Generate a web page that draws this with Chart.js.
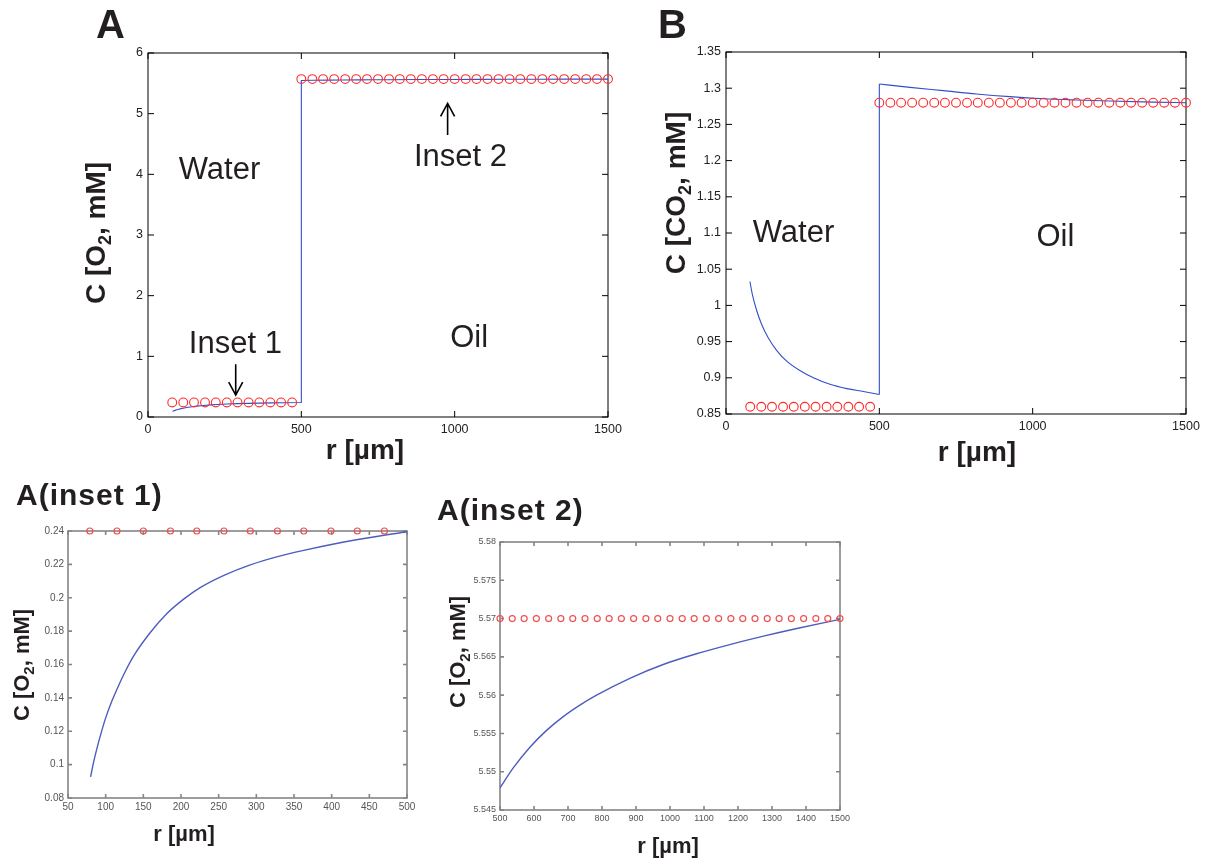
<!DOCTYPE html>
<html>
<head>
<meta charset="utf-8">
<script src="https://cdn.jsdelivr.net/npm/chart.js@4.4.1/dist/chart.umd.min.js"></script>
<style>
  html, body { margin: 0; padding: 0; background: #fff; }
  body { width: 1207px; height: 859px; position: relative; overflow: hidden; }
  canvas { position: absolute; }
</style>
</head>
<body>
<canvas id="panelA"></canvas>
<canvas id="panelB"></canvas>
<canvas id="inset1"></canvas>
<canvas id="inset2"></canvas>
<script>
// ---- axis ticks ----
const rTicksMain = [0, 500, 1000, 1500];
const o2Ticks = [0, 1, 2, 3, 4, 5, 6];
const co2Ticks = [0.85, 0.9, 0.95, 1, 1.05, 1.1, 1.15, 1.2, 1.25, 1.3, 1.35];
const inset1RTicks = [50, 100, 150, 200, 250, 300, 350, 400, 450, 500];
const inset1CTicks = [0.08, 0.1, 0.12, 0.14, 0.16, 0.18, 0.2, 0.22, 0.24];
const inset2RTicks = [500, 600, 700, 800, 900, 1000, 1100, 1200, 1300, 1400, 1500];
const inset2CTicks = [5.545, 5.55, 5.555, 5.56, 5.565, 5.57, 5.575, 5.58];

// ---- O2 profile (blue line) ----
const o2WaterR = [80, 84, 88, 94, 100, 108, 115, 126, 137, 159, 181, 204, 226, 257, 292, 327, 363, 403, 447, 500];
const o2WaterC = [0.0926, 0.1015, 0.1090, 0.1190, 0.1280, 0.1378, 0.1452, 0.1558, 0.1650, 0.1790, 0.1904, 0.1993,
  0.2062, 0.2134, 0.2197, 0.2245, 0.2284, 0.2322, 0.2358, 0.2396];
const o2OilR = [500, 539, 588, 637, 686, 735, 784, 882, 980, 1078, 1176, 1275, 1373, 1500];
const o2OilC = [5.5479, 5.5505, 5.5532, 5.5554, 5.5572, 5.5587, 5.5600, 5.5622, 5.5640, 5.5654, 5.5666, 5.5677, 5.5687, 5.5699];

// ---- CO2 profile (blue line) ----
const co2WaterR = [78, 87, 100, 116, 138, 165, 198, 241, 285, 339, 394, 448, 500];
const co2WaterC = [1.033, 1.013, 0.993, 0.974, 0.955, 0.938, 0.923, 0.910, 0.900, 0.891, 0.885, 0.881, 0.877];
const co2OilR = [500, 600, 709, 817, 926, 1035, 1144, 1252, 1393, 1500];
const co2OilC = [1.3058, 1.3012, 1.2966, 1.2920, 1.2883, 1.2855, 1.2837, 1.2823, 1.2808, 1.2800];

// ---- red circles ----
const dotsWaterR = [79, 115, 150, 186, 221, 257, 292, 328, 363, 399, 434, 470];
const dotsOilR = [500, 536, 571, 607, 643, 679, 714, 750, 786, 821, 857, 893, 929, 964, 1000,
  1036, 1071, 1107, 1143, 1179, 1214, 1250, 1286, 1321, 1357, 1393, 1429, 1464, 1500];
const o2WaterDots = [0.24, 0.24, 0.24, 0.24, 0.24, 0.24, 0.24, 0.24, 0.24, 0.24, 0.24, 0.24];
const o2OilDots = [5.57, 5.57, 5.57, 5.57, 5.57, 5.57, 5.57, 5.57, 5.57, 5.57, 5.57, 5.57, 5.57, 5.57, 5.57,
  5.57, 5.57, 5.57, 5.57, 5.57, 5.57, 5.57, 5.57, 5.57, 5.57, 5.57, 5.57, 5.57, 5.57];
const co2WaterDots = [0.86, 0.86, 0.86, 0.86, 0.86, 0.86, 0.86, 0.86, 0.86, 0.86, 0.86, 0.86];
const co2OilDots = [1.28, 1.28, 1.28, 1.28, 1.28, 1.28, 1.28, 1.28, 1.28, 1.28, 1.28, 1.28, 1.28, 1.28, 1.28,
  1.28, 1.28, 1.28, 1.28, 1.28, 1.28, 1.28, 1.28, 1.28, 1.28, 1.28, 1.28, 1.28, 1.28];

// ---- annotations (data coords) ----
const notesA = [
  { text: "Water", r: 233, c: 3.92 },
  { text: "Inset 2", r: 1019, c: 4.13 },
  { text: "Inset 1", r: 285, c: 1.05 },
  { text: "Oil", r: 1047, c: 1.156 },
];
const arrowsA = [
  { r: 977, from: 4.65, to: 5.17 },
  { r: 286, from: 0.87, to: 0.36 },
];
const notesB = [
  { text: "Water", r: 220, c: 1.088 },
  { text: "Oil", r: 1074, c: 1.082 },
];

const FONT = '"Liberation Sans", Arial, Helvetica, sans-serif';
const INK = "#231f20";
const O2_LABEL = [{ t: "C [O" }, { t: "2", sub: true }, { t: ", mM]" }];
const CO2_LABEL = [{ t: "C [CO" }, { t: "2", sub: true }, { t: ", mM]" }];
const R_LABEL = [{ t: "r [µm]" }];

const pts = (xs, ys) => xs.map((x, i) => ({ x, y: ys[i] }));

function curve(data, color, width, smooth) {
  return {
    data,
    showLine: true,
    borderColor: color,
    borderWidth: width,
    pointRadius: 0,
    fill: false,
    tension: 0,
    cubicInterpolationMode: smooth ? "monotone" : "default",
  };
}

function dots(data, color, radius, width) {
  return {
    data,
    showLine: false,
    pointStyle: "circle",
    pointRadius: radius,
    pointBorderColor: color,
    pointBackgroundColor: "rgba(0,0,0,0)",
    pointBorderWidth: width,
    clip: false,
  };
}

function drawRich(ctx, parts, size, x, y, angle) {
  ctx.save();
  ctx.translate(x, y);
  ctx.rotate(angle);
  ctx.fillStyle = INK;
  ctx.textAlign = "left";
  ctx.textBaseline = "alphabetic";
  const fonts = parts.map((p) => `bold ${p.sub ? Math.round(size * 0.66) : size}px ${FONT}`);
  let total = 0;
  const widths = parts.map((p, i) => {
    ctx.font = fonts[i];
    const w = ctx.measureText(p.t).width;
    total += w;
    return w;
  });
  let cx = -total / 2;
  parts.forEach((p, i) => {
    ctx.font = fonts[i];
    ctx.fillText(p.t, cx, p.sub ? size * 0.22 : 0);
    cx += widths[i];
  });
  ctx.restore();
}

// MATLAB-like boxed axes with inward ticks, panel letters, axis titles, notes and arrows
const framePlugin = {
  id: "frame",
  beforeDatasetsDraw(chart, args, o) {
    const { ctx, chartArea: a, scales } = chart;
    ctx.save();
    ctx.strokeStyle = o.color;
    ctx.lineWidth = o.width;
    ctx.strokeRect(a.left, a.top, a.right - a.left, a.bottom - a.top);
    ctx.beginPath();
    scales.x.ticks.forEach((t) => {
      const x = scales.x.getPixelForValue(t.value);
      ctx.moveTo(x, a.bottom);
      ctx.lineTo(x, a.bottom - o.tick);
      ctx.moveTo(x, a.top);
      ctx.lineTo(x, a.top + o.tick);
    });
    scales.y.ticks.forEach((t) => {
      const y = scales.y.getPixelForValue(t.value);
      ctx.moveTo(a.left, y);
      ctx.lineTo(a.left + o.tick, y);
      ctx.moveTo(a.right, y);
      ctx.lineTo(a.right - o.tick, y);
    });
    ctx.stroke();
    ctx.restore();
  },
  afterDraw(chart, args, o) {
    const { ctx, scales } = chart;
    const [ox, oy] = o.origin;
    ctx.save();
    // panel letter
    ctx.fillStyle = INK;
    ctx.font = `bold ${o.letter.size}px ${FONT}`;
    ctx.textAlign = "left";
    ctx.textBaseline = "alphabetic";
    if (o.letter.spacing) ctx.letterSpacing = o.letter.spacing + "px";
    ctx.fillText(o.letter.text, o.letter.x - ox, o.letter.y - oy);
    ctx.letterSpacing = "0px";
    // axis titles
    drawRich(ctx, o.xTitle.parts, o.xTitle.size, o.xTitle.x - ox, o.xTitle.y - oy, 0);
    drawRich(ctx, o.yTitle.parts, o.yTitle.size, o.yTitle.x - ox, o.yTitle.y - oy, -Math.PI / 2);
    // region notes
    ctx.font = `${o.noteSize || 31}px ${FONT}`;
    ctx.textAlign = "center";
    ctx.fillStyle = INK;
    (o.notes || []).forEach((n) => {
      ctx.fillText(n.text, scales.x.getPixelForValue(n.r), scales.y.getPixelForValue(n.c));
    });
    // arrows
    ctx.strokeStyle = "#000";
    ctx.lineWidth = 1.6;
    (o.arrows || []).forEach((ar) => {
      const x = scales.x.getPixelForValue(ar.r);
      const y0 = scales.y.getPixelForValue(ar.from);
      const y1 = scales.y.getPixelForValue(ar.to);
      const dir = y1 < y0 ? 1 : -1;
      ctx.beginPath();
      ctx.moveTo(x, y0);
      ctx.lineTo(x, y1);
      ctx.moveTo(x - 7, y1 + dir * 13);
      ctx.lineTo(x, y1);
      ctx.lineTo(x + 7, y1 + dir * 13);
      ctx.stroke();
    });
    ctx.restore();
  },
};

function axis(ticks, dir, size, tickFont, tickColor, pad) {
  return {
    type: "linear",
    min: ticks[0],
    max: ticks[ticks.length - 1],
    afterBuildTicks: (s) => {
      s.ticks = ticks.map((v) => ({ value: v }));
    },
    afterFit: (s) => {
      if (dir === "x") s.height = size;
      else s.width = size;
    },
    grid: { display: false, drawTicks: false },
    border: { display: false },
    ticks: {
      autoSkip: false,
      maxRotation: 0,
      minRotation: 0,
      padding: pad,
      color: tickColor,
      font: { family: FONT, size: tickFont },
      callback: (v) => String(+Number(v).toFixed(3)),
    },
  };
}

function makePanel(id, p) {
  const cv = document.getElementById(id);
  const [bx, by, bw, bh] = p.box;
  const [l, t, r, b] = p.area;
  cv.style.left = bx + "px";
  cv.style.top = by + "px";
  cv.style.width = bw + "px";
  cv.style.height = bh + "px";
  cv.width = bw;
  cv.height = bh;
  const yW = 40;
  const xH = 20;
  return new Chart(cv, {
    type: "scatter",
    data: { datasets: p.datasets },
    options: {
      responsive: false,
      animation: false,
      devicePixelRatio: 1,
      layout: { padding: { left: l - bx - yW, top: t - by, right: bx + bw - r, bottom: by + bh - b - xH } },
      plugins: {
        legend: { display: false },
        tooltip: { enabled: false },
        frame: { ...p.frame, origin: [bx, by] },
      },
      scales: {
        x: axis(p.xTicks, "x", xH, p.tickFont, p.tickColor, p.xPad),
        y: axis(p.yTicks, "y", yW, p.tickFont, p.tickColor, p.yPad),
      },
    },
    plugins: [framePlugin],
  });
}

const BLUE = "#3050c8";
const RED = "#ff2a2a";
const BLUE_SOFT = "#4d5dbd";
const RED_SOFT = "#ee5050";

makePanel("panelA", {
  box: [60, 0, 580, 470],
  area: [148, 53, 608, 417],
  xTicks: rTicksMain,
  yTicks: o2Ticks,
  tickFont: 12.5,
  tickColor: "#222",
  xPad: 5,
  yPad: 5,
  datasets: [
    dots(pts(dotsWaterR, o2WaterDots), RED, 4.4, 1.1),
    dots(pts(dotsOilR, o2OilDots), RED, 4.4, 1.1),
    curve(pts(o2WaterR.concat(o2OilR), o2WaterC.concat(o2OilC)), BLUE, 1.1, false),
  ],
  frame: {
    color: "#000", width: 1, tick: 6,
    letter: { text: "A", x: 96, y: 38, size: 40 },
    xTitle: { parts: R_LABEL, size: 28, x: 365, y: 459 },
    yTitle: { parts: O2_LABEL, size: 28, x: 105, y: 233 },
    notes: notesA, noteSize: 31, arrows: arrowsA,
  },
});

makePanel("panelB", {
  box: [640, 0, 567, 470],
  area: [726, 52, 1186, 414],
  xTicks: rTicksMain,
  yTicks: co2Ticks,
  tickFont: 12.5,
  tickColor: "#222",
  xPad: 5,
  yPad: 5,
  datasets: [
    dots(pts(dotsWaterR, co2WaterDots), RED, 4.4, 1.1),
    dots(pts(dotsOilR, co2OilDots), RED, 4.4, 1.1),
    curve(pts(co2WaterR, co2WaterC), BLUE, 1.1, true),
    curve(pts([co2WaterR[co2WaterR.length - 1], co2OilR[0]], [co2WaterC[co2WaterC.length - 1], co2OilC[0]]), BLUE, 1.1, false),
    curve(pts(co2OilR, co2OilC), BLUE, 1.1, true),
  ],
  frame: {
    color: "#000", width: 1, tick: 6,
    letter: { text: "B", x: 658, y: 37.5, size: 40 },
    xTitle: { parts: R_LABEL, size: 28, x: 977, y: 461 },
    yTitle: { parts: CO2_LABEL, size: 28, x: 685, y: 193 },
    notes: notesB, noteSize: 31,
  },
});

makePanel("inset1", {
  box: [0, 470, 430, 389],
  area: [68, 531, 407, 798],
  xTicks: inset1RTicks,
  yTicks: inset1CTicks,
  tickFont: 10,
  tickColor: "#555",
  xPad: 3,
  yPad: 4,
  datasets: [
    dots(pts(dotsWaterR, o2WaterDots), RED_SOFT, 3, 1.2),
    curve(pts(o2WaterR, o2WaterC), BLUE_SOFT, 1.4, true),
  ],
  frame: {
    color: "#858585", width: 1.6, tick: 4,
    letter: { text: "A(inset 1)", x: 16, y: 505, size: 30, spacing: 1 },
    xTitle: { parts: R_LABEL, size: 22, x: 184, y: 841 },
    yTitle: { parts: O2_LABEL, size: 22, x: 29, y: 665 },
  },
});

makePanel("inset2", {
  box: [430, 478, 450, 381],
  area: [500, 542, 840, 810],
  xTicks: inset2RTicks,
  yTicks: inset2CTicks,
  tickFont: 9,
  tickColor: "#555",
  xPad: 3,
  yPad: 4,
  datasets: [
    dots(pts(dotsOilR, o2OilDots), RED_SOFT, 3, 1.2),
    curve(pts(o2OilR, o2OilC), BLUE_SOFT, 1.4, true),
  ],
  frame: {
    color: "#858585", width: 1.6, tick: 4,
    letter: { text: "A(inset 2)", x: 437, y: 520, size: 30, spacing: 1 },
    xTitle: { parts: R_LABEL, size: 22, x: 668, y: 853 },
    yTitle: { parts: O2_LABEL, size: 22, x: 465, y: 652 },
  },
});
</script>
</body>
</html>
